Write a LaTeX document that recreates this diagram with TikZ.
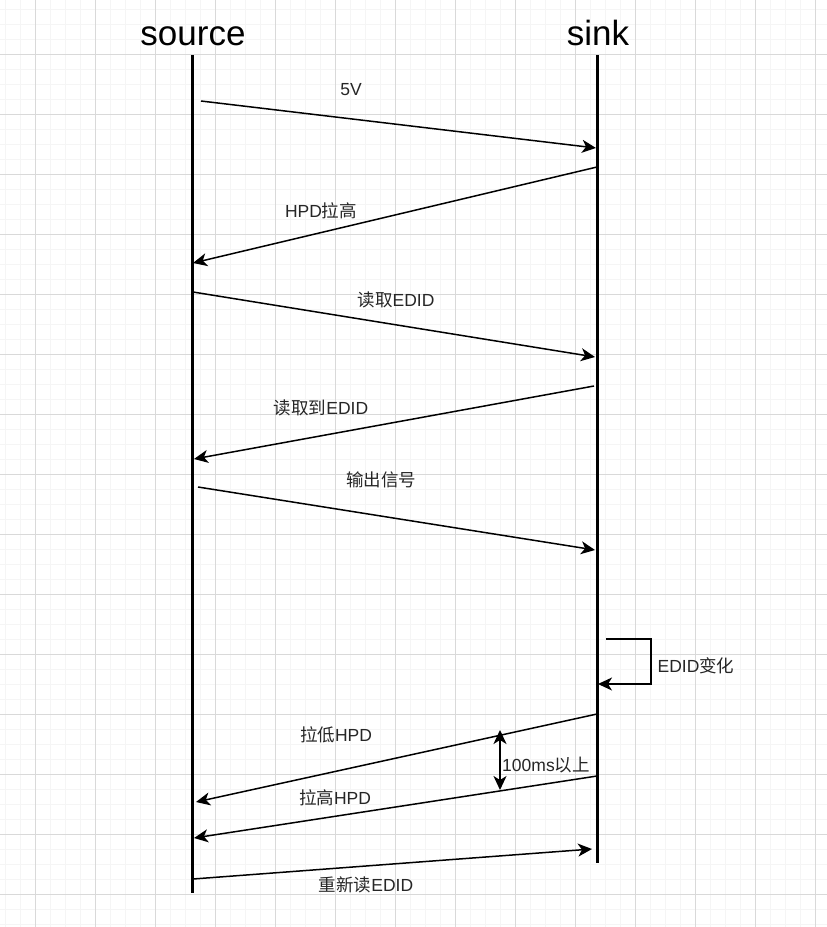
\documentclass[tikz,border=0pt]{standalone}
\usepackage{fontspec}
\setmainfont{Liberation Sans}
\newfontfamily\cjk{Noto Sans CJK SC}
\usetikzlibrary{arrows.meta}
\begin{document}
\begin{tikzpicture}[x=1bp,y=-1bp,
  lifeline/.style={line width=3bp,black},
  msg/.style={line width=1.5bp,black,-{Stealth[length=14bp,width=13bp,inset=4bp]}},
  dbl/.style={line width=1.8bp,black,{Stealth[length=14bp,width=13bp,inset=4bp]}-{Stealth[length=14bp,width=13bp,inset=4bp]}},
  big/.style={font=\fontsize{35bp}{40bp}\selectfont,inner sep=0,anchor=base},
  lbl/.style={font=\fontsize{17.5bp}{20bp}\selectfont,inner sep=0,text=black!85}]
\useasboundingbox (0,0) rectangle (827,927);
\fill[white] (0,0) rectangle (827,927);
% grid
\foreach \i in {0,...,55} {
  \draw[line width=1bp,black!4] ({5.3+15*\i},0) -- ({5.3+15*\i},927);
}
\foreach \i in {0,...,62} {
  \draw[line width=1bp,black!4] (0,{9.3+15*\i}) -- (827,{9.3+15*\i});
}
\foreach \i in {0,...,13} {
  \draw[line width=1bp,black!15] ({35.3+60*\i},0) -- ({35.3+60*\i},927);
}
\foreach \i in {0,...,15} {
  \draw[line width=1bp,black!15] (0,{54.3+60*\i}) -- (827,{54.3+60*\i});
}
% headers
\node[big] (src) at (193,45) {source};
\node[big] (snk) at (598,45) {sink};
% lifelines
\coordinate (srcTop) at (192,55);
\coordinate (srcBot) at (192,893);
\coordinate (snkTop) at (597,55);
\coordinate (snkBot) at (597,863);
\draw[lifeline] (srcTop) -- (srcBot);
\draw[lifeline] (snkTop) -- (snkBot);
% message endpoints
\coordinate (a1) at (201,101); \coordinate (b1) at (596,148);
\coordinate (a2) at (597,167); \coordinate (b2) at (193,263);
\coordinate (a3) at (193,292); \coordinate (b3) at (595,357);
\coordinate (a4) at (594,386); \coordinate (b4) at (194,459);
\coordinate (a5) at (198,487); \coordinate (b5) at (595,550);
\coordinate (a7) at (597,714); \coordinate (b7) at (196,802);
\coordinate (a8) at (597,776); \coordinate (b8) at (194,838);
\coordinate (a10) at (193,879); \coordinate (b10) at (592,849);
\coordinate (l1) at (606,639); \coordinate (l2) at (651,639);
\coordinate (l3) at (651,684); \coordinate (l4) at (598,684);
\coordinate (d1) at (500,730); \coordinate (d2) at (500,790);
\draw[msg] (a1) -- (b1);
\draw[msg] (a2) -- (b2);
\draw[msg] (a3) -- (b3);
\draw[msg] (a4) -- (b4);
\draw[msg] (a5) -- (b5);
\draw[msg] (l1) -- (l2) -- (l3) -- (l4);
\draw[msg] (a7) -- (b7);
\draw[msg] (a8) -- (b8);
\draw[msg] (a10) -- (b10);
\draw[dbl] (d1) -- (d2);
% labels
\node[lbl] (t1) at (351,90) {5V};
\node[lbl] (t2) at (321,211) {HPD{\cjk 拉高}};
\node[lbl] (t3) at (396,300) {{\cjk 读取}EDID};
\node[lbl] (t4) at (321,408) {{\cjk 读取到}EDID};
\node[lbl] (t5) at (381,480) {{\cjk 输出信号}};
\node[lbl] (t6) at (696,666) {EDID{\cjk 变化}};
\node[lbl] (t7) at (336,735) {{\cjk 拉低}HPD};
\node[lbl] (t9) at (546,765) {100ms{\cjk 以上}};
\node[lbl] (t8) at (335,798) {{\cjk 拉高}HPD};
\node[lbl] (t10) at (366,885) {{\cjk 重新读}EDID};
\end{tikzpicture}
\end{document}
